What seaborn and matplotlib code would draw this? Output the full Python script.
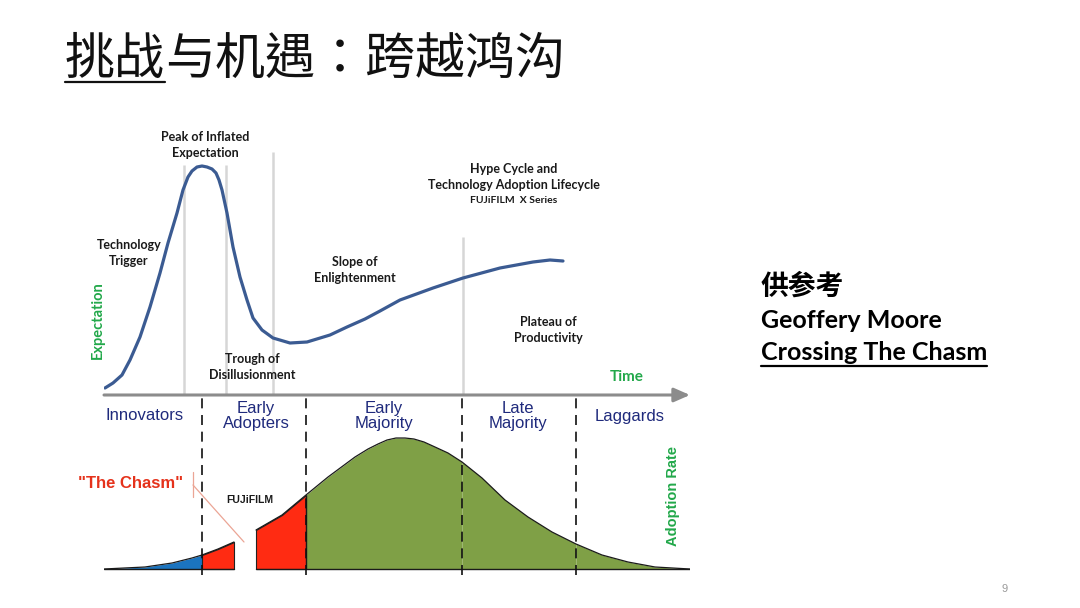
import matplotlib
matplotlib.use("Agg")
import matplotlib.pyplot as plt
from matplotlib.lines import Line2D
import numpy as np
import seaborn as sns

# Hype cycle: time vs expectation
hype_time = [1, 9, 18, 26, 36, 46, 56, 64, 73, 79, 84, 88, 93, 98, 103, 108, 112, 115, 118,
             123, 129, 136, 143, 149, 158, 169, 186, 203, 226, 243, 261, 276, 296, 329, 359,
             396, 429, 446, 459]
hype_expect = [7, 12, 20, 35, 58, 88, 122, 152, 182, 205, 218, 224, 228, 229, 228, 226, 222, 215, 205,
               182, 148, 118, 95, 77, 65, 57, 52, 53, 60, 68, 76, 84, 95, 107, 117,
               127, 133, 135, 134]
phase_time = [80, 122, 169, 359]
phase_top = [230, 230, 243, 158]

# Technology adoption lifecycle: time vs adoption rate
bell_time = [0, 41, 68, 88, 98, 114, 130, 152, 178, 202, 224, 251, 264, 274, 283, 292, 301,
             310, 320, 331, 344, 358, 378, 401, 424, 448, 472, 498, 524, 551, 586]
bell_rate = [0, 2, 6, 11, 14, 20, 27, 39, 54, 74, 92, 112, 120, 125, 129, 131, 131,
             130, 127, 122, 116, 107, 91, 69, 52, 37, 25, 14, 7, 2, 0]
group_edges = [98, 202, 358, 472]
group_names = ["Innovators", "Early\nAdopters", "Early\nMajority", "Late\nMajority", "Laggards"]
group_colors = ["#1b74bf", "#ff2b12", "#7fa046", "#7fa046", "#7fa046"]
chasm_start, chasm_end = 130, 152

sns.set_theme(style="white")
plt.rcParams["font.family"] = ["Noto Sans CJK SC", "DejaVu Sans"]
CJK = ["Noto Sans CJK SC", "DejaVu Sans"]
CJK_TITLE = ["Noto Sans CJK TC", "Noto Sans CJK SC", "DejaVu Sans"]
LAB = ["Lato", "DejaVu Sans"]
ARIAL = ["Liberation Sans", "DejaVu Sans"]
GREEN_TXT = "#22a84a"
NAVY = "#1f2a7c"

fig = plt.figure(figsize=(10.8, 6.08), dpi=100)
fig.patch.set_facecolor("white")
W, H = 1080, 608
ax_top = fig.add_axes([104 / W, 213 / H, 586 / W, 275 / H])
ax_bot = fig.add_axes([104 / W, 33 / H, 586 / W, 180 / H])
t_max = bell_time[-1]
for ax in (ax_top, ax_bot):
    ax.set_xlim(0, t_max)
    ax.axis("off")
ax_top.set_ylim(0, 275)
ax_bot.set_ylim(-6, 174)

# ---- hype cycle ----
ax_top.vlines(phase_time, 0, phase_top, colors="#d6d6d6", lw=1.8, zorder=1)
sns.lineplot(x=hype_time, y=hype_expect, ax=ax_top, color="#3b5b92", lw=2.3,
             sort=False, zorder=3)
ax_top.lines[-1].set_solid_joinstyle("round")
ax_top.lines[-1].set_solid_capstyle("round")
ax_top.annotate("", xy=(t_max, 0), xytext=(0, 0), annotation_clip=False,
                arrowprops=dict(arrowstyle="-|>,head_length=0.8,head_width=0.35",
                                color="#8c8c8c", lw=2.2, shrinkA=0, shrinkB=0))

lab_kw = dict(ha="center", va="center", fontsize=9, fontweight="bold", family=LAB,
              color="#1a1a1a", linespacing=1.42)
ax_top.text(101, 250, "Peak of Inflated\nExpectation", **lab_kw)
ax_top.text(25, 142, "Technology\nTrigger", **lab_kw)
ax_top.text(251, 125, "Slope of\nEnlightenment", **lab_kw)
ax_top.text(148, 28, "Trough of\nDisillusionment", **lab_kw)
ax_top.text(444, 65, "Plateau of\nProductivity", **lab_kw)
ax_top.text(410, 218, "Hype Cycle and\nTechnology Adoption Lifecycle", **lab_kw)
ax_top.text(410, 195, "FUJiFILM  X Series", ha="center", va="center", fontsize=7.5,
            fontweight="bold", family=LAB, color="#1a1a1a")
ax_top.text(523, 18, "Time", ha="center", va="center", fontsize=11, fontweight="bold",
            family=LAB, color=GREEN_TXT)
ax_top.text(-6, 75, "Expectation", ha="center", va="center", rotation=90, fontsize=10.5,
            fontweight="bold", family=LAB, color=GREEN_TXT)

# ---- adoption lifecycle ----
bt = np.array(bell_time)
br = np.array(bell_rate)
edges = [0] + group_edges + [t_max]
for lo, hi, col in zip(edges[:-1], edges[1:], group_colors):
    pieces = [(lo, hi)]
    if lo < chasm_start and hi > chasm_end:
        pieces = [(lo, chasm_start), (chasm_end, hi)]
    for a, b in pieces:
        m = (bt >= a) & (bt <= b)
        red = col == "#ff2b12"
        ax_bot.fill_between(bt[m], 0, br[m], color=col, lw=0.8 if red else 0,
                            edgecolor="#222222" if red else col, zorder=2)

left = bt <= chasm_start
right = bt >= chasm_end
for m in (left, right):
    ax_bot.plot(bt[m], br[m], color="#1a1a1a", lw=0.9, zorder=3)
    ax_bot.plot(bt[m], np.zeros(m.sum()), color="#1a1a1a", lw=1.0, zorder=3)
ax_bot.vlines([group_edges[1]], 0, br[bt == group_edges[1]], colors="#1a1a1a", lw=1.0, zorder=3)
ax_bot.vlines(group_edges, -6, 174, colors="#111111", linestyles=(0, (6, 4)), lw=1.2, zorder=4)

label_pos = [41, 152, 280, 414, 526]
for x, name in zip(label_pos, group_names):
    ax_bot.text(x, 153, name, ha="center", va="center", color=NAVY,
                fontsize=12, family=ARIAL, linespacing=1.05)

ax_bot.text(27, 85, '"The Chasm"', ha="center", va="center", color="#e5321b",
            fontsize=12, fontweight="bold", family=ARIAL)
ax_bot.plot([89, 89], [72, 97], color="#eba595", lw=0.9, zorder=5)
ax_bot.plot([89, 140], [84, 27], color="#eba595", lw=0.9, zorder=5)
ax_bot.text(146, 69, "FUJiFILM", ha="center", va="center", fontsize=7.5,
            fontweight="bold", family=ARIAL, color="#1a1a1a")
ax_bot.text(569, 73, "Adoption Rate", ha="center", va="center", rotation=90,
            fontsize=10.5, fontweight="bold", family=ARIAL, color=GREEN_TXT)

# ---- slide text ----
t1 = fig.text(65 / W, 1 - 60 / H, "挑战", fontsize=36, va="center", ha="left",
              family=CJK_TITLE, fontweight="light", color="#111111")
fig.canvas.draw()
r = fig.canvas.get_renderer()
bb = t1.get_window_extent(r)
fig.text(bb.x1 / W, 1 - 60 / H, "与机遇：跨越鸿沟", fontsize=36, va="center", ha="left",
         family=CJK_TITLE, fontweight="light", color="#111111")
fig.add_artist(Line2D([65 / W, bb.x1 / W], [1 - 82 / H] * 2, color="#111111", lw=1.6))

fig.text(761 / W, 1 - 287 / H, "供参考", fontsize=20, va="center", ha="left",
         family=CJK, fontweight="bold", color="black")
fig.text(761 / W, 1 - 320 / H, "Geoffery Moore", fontsize=18, va="center", ha="left",
         family=LAB, fontweight="bold", color="black")
t3 = fig.text(761 / W, 1 - 353 / H, "Crossing The Chasm", fontsize=18, va="center",
              ha="left", family=LAB, fontweight="bold", color="black")
bb3 = t3.get_window_extent(r)
fig.add_artist(Line2D([761 / W, bb3.x1 / W], [1 - 366 / H] * 2, color="black", lw=1.6))

fig.text(1005 / W, 1 - 589 / H, "9", fontsize=8, va="center", ha="center",
         family=ARIAL, color="#9a9a9a")

fig.savefig("out.png", dpi=100, facecolor="white")
